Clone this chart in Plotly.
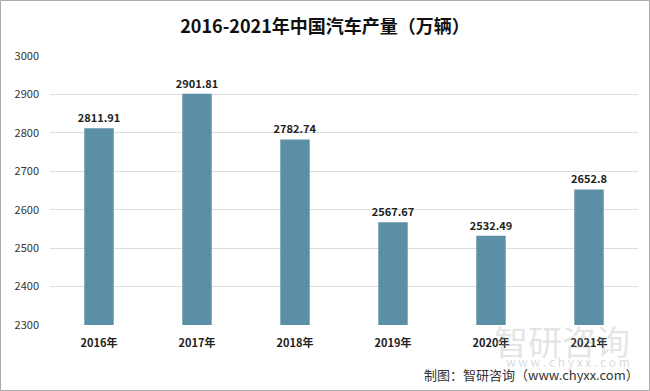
import plotly.graph_objects as go

categories = ["2016年", "2017年", "2018年", "2019年", "2020年", "2021年"]
values = [2811.91, 2901.81, 2782.74, 2567.67, 2532.49, 2652.8]
value_labels = ["2811.91", "2901.81", "2782.74", "2567.67", "2532.49", "2652.8"]
y_ticks = [2300, 2400, 2500, 2600, 2700, 2800, 2900, 3000]
y_base = 2300

font_family = "Noto Sans CJK SC, Microsoft YaHei, sans-serif"

W, H = 650, 391
L, R, T, B = 50, 12, 56, 66
PW, PH = W - L - R, H - T - B

fig = go.Figure()
fig.add_trace(go.Bar(
    x=categories, y=[v - y_base for v in values], base=y_base,
    marker=dict(color="#5B8FA6", line=dict(width=0)),
    width=0.30,
    text=["<b>" + t + "</b>" for t in value_labels], textposition="outside",
    constraintext="none",
    textfont=dict(size=11, color="#222", family=font_family),
    cliponaxis=False, hoverinfo="skip",
))

fig.update_layout(
    width=W, height=H,
    margin=dict(l=L, r=R, t=T, b=B, autoexpand=False),
    paper_bgcolor="white", plot_bgcolor="white",
    showlegend=False,
    title=dict(text="<b>2016-2021年中国汽车产量（万辆）</b>", x=0.5, xanchor="center",
               y=1 - 27 / H, yanchor="middle",
               font=dict(size=18, color="#111", family=font_family)),
    xaxis=dict(tickfont=dict(size=11, color="#222", family=font_family),
               showline=False, ticks="", tickprefix="<b>", ticksuffix="</b>",
               ticklabelstandoff=10),
    yaxis=dict(range=[2300, 3000], tickvals=y_ticks, showgrid=True,
               gridcolor="#DDDDDD", gridwidth=1, zeroline=False,
               tickfont=dict(size=11, color="#333", family=font_family),
               ticks="", ticklabelstandoff=10),
    shapes=[dict(type="rect", xref="paper", yref="paper",
                 x0=(0.5 - L) / PW, x1=1 + (R - 0.5) / PW,
                 y0=(0.5 - B) / PH, y1=1 + (T - 0.5) / PH,
                 line=dict(color="#AAAAAA", width=1), layer="below")],
)
# watermark
fig.add_annotation(text="智研咨询", xref="paper", yref="paper",
                   x=(632 - L) / PW, y=-(340 - (H - B)) / PH,
                   xanchor="right", yanchor="middle", showarrow=False,
                   font=dict(size=34, color="rgba(160,165,170,0.3)", family=font_family))
fig.add_annotation(text="w w w . c h y x x . c o m", xref="paper", yref="paper",
                   x=(632 - L) / PW, y=-(361 - (H - B)) / PH,
                   xanchor="right", yanchor="middle", showarrow=False,
                   font=dict(size=12, color="rgba(160,165,170,0.4)", family=font_family))
# footer
fig.add_annotation(text="制图：智研咨询（www.chyxx.com）", xref="paper", yref="paper",
                   x=(641 - L) / PW, y=-(374 - (H - B)) / PH, xanchor="right", yanchor="middle",
                   showarrow=False,
                   font=dict(size=13, color="#333", family=font_family))

fig.write_html("out.html", config={"displayModeBar": False},
               post_script="document.body.style.margin='0';")
